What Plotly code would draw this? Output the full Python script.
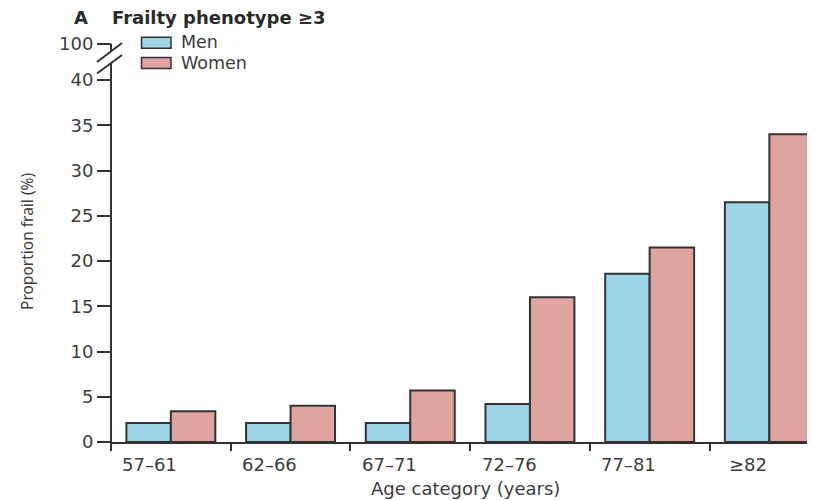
import plotly.graph_objects as go

categories = ["57–61", "62–66", "67–71", "72–76", "77–81", "≥82"]
men = [2.1, 2.1, 2.1, 4.2, 18.6, 26.5]
women = [3.4, 4.0, 5.7, 16.0, 21.5, 34.0]
y_tick_vals = [0, 5, 10, 15, 20, 25, 30, 35, 40, 44.0]
y_tick_text = ["0", "5", "10", "15", "20", "25", "30", "35", "40", "100"]
series_names = ["Men", "Women"]
series_colors = ["#9DD5E7", "#E0A4A0"]

EDGE = "#333333"
TXT = "#3c3c3c"
FONT = "DejaVu Sans"

# page offset of the figure (body margin)
OFF = 8
FIG_W, FIG_H = 815 - OFF, 500 - OFF
# plot area in page pixels
L, R, T, B = 111, 815, 42, 442
W, H = R - L, B - T
PX_PER_CAT = 119.7
PX_PER_UNIT = 9.05


def px_x(p):
    return (p - L) / W


def px_y(p):
    return (B - p) / H


xs = list(range(len(categories)))

fig = go.Figure()
for name, vals, col in zip(series_names, [men, women], series_colors):
    fig.add_trace(go.Bar(
        x=xs, y=vals, name=name,
        marker=dict(color=col, line=dict(color=EDGE, width=2)),
        showlegend=False,
    ))

shapes = []
line = dict(color=EDGE, width=2)
# y-axis with break
shapes.append(dict(type="line", xref="paper", yref="paper",
                   x0=0, x1=0, y0=px_y(448), y1=px_y(63), line=line))
shapes.append(dict(type="line", xref="paper", yref="paper",
                   x0=0, x1=0, y0=px_y(51), y1=px_y(43.5), line=line))
# break slashes
shapes.append(dict(type="line", xref="paper", yref="paper",
                   x0=px_x(97), y0=px_y(62), x1=px_x(122), y1=px_y(43), line=line))
shapes.append(dict(type="line", xref="paper", yref="paper",
                   x0=px_x(97), y0=px_y(73.5), x1=px_x(122), y1=px_y(55), line=line))

# legend boxes
legend_rows = [(37.3, 48.3), (57.5, 68.5)]
annotations = []
for (top, bot), name, col in zip(legend_rows, series_names, series_colors):
    shapes.append(dict(type="rect", xref="paper", yref="paper",
                       x0=px_x(141.5), x1=px_x(171), y0=px_y(bot), y1=px_y(top),
                       fillcolor=col, line=dict(color=EDGE, width=1.5)))
    annotations.append(dict(xref="paper", yref="paper", x=px_x(179), y=px_y((top + bot) / 2 - 0.5),
                            text=name, showarrow=False, xanchor="left", yanchor="middle",
                            font=dict(family=FONT, size=17.5, color=TXT)))

# category labels (offset left of the category centre as in the original)
for i, c in enumerate(categories):
    annotations.append(dict(xref="x", yref="paper", x=i - 0.175, y=px_y(464),
                            text=c, showarrow=False, xanchor="center", yanchor="middle",
                            font=dict(family=FONT, size=18, color=TXT)))

# titles
annotations.append(dict(xref="paper", yref="paper", x=px_x(72), y=px_y(17),
                        text="<b>A</b>", showarrow=False, xanchor="left", yanchor="middle",
                        font=dict(family=FONT, size=18, color="#2a2a2a")))
annotations.append(dict(xref="paper", yref="paper", x=px_x(110), y=px_y(18),
                        text="<b>Frailty phenotype ≥3</b>", showarrow=False, xanchor="left",
                        yanchor="middle", font=dict(family=FONT, size=18, color="#2a2a2a")))
annotations.append(dict(xref="paper", yref="paper", x=px_x(465), y=px_y(488),
                        text="Age category (years)", showarrow=False, xanchor="center",
                        yanchor="middle", font=dict(family=FONT, size=18, color=TXT)))
annotations.append(dict(xref="paper", yref="paper", x=px_x(27), y=px_y(242),
                        text="Proportion frail (%)", showarrow=False, textangle=-90,
                        xanchor="center", yanchor="middle",
                        font=dict(family="Noto Sans", size=15.5, color=TXT)))

fig.update_layout(
    width=FIG_W, height=FIG_H,
    margin=dict(l=L - OFF, r=FIG_W - (R - OFF), t=T - OFF, b=FIG_H - (B - OFF), pad=0),
    paper_bgcolor="white", plot_bgcolor="white",
    barmode="group", bargap=0.257, bargroupgap=0,
    shapes=shapes, annotations=annotations,
    xaxis=dict(
        range=[-0.5, -0.5 + W / PX_PER_CAT],
        tickvals=[i - 0.5 for i in range(len(categories) + 1)],
        ticktext=[""] * (len(categories) + 1),
        ticks="outside", ticklen=7, tickwidth=2, tickcolor=EDGE,
        showline=True, linecolor=EDGE, linewidth=2,
        showgrid=False, zeroline=False, fixedrange=True,
    ),
    yaxis=dict(
        range=[0, H / PX_PER_UNIT],
        tickvals=y_tick_vals, ticktext=y_tick_text,
        ticks="outside", ticklen=13, tickwidth=2, tickcolor=EDGE,
        tickfont=dict(family=FONT, size=18, color=TXT),
        showline=False, showgrid=False, zeroline=False, fixedrange=True,
    ),
)

fig.write_html("out.html")
